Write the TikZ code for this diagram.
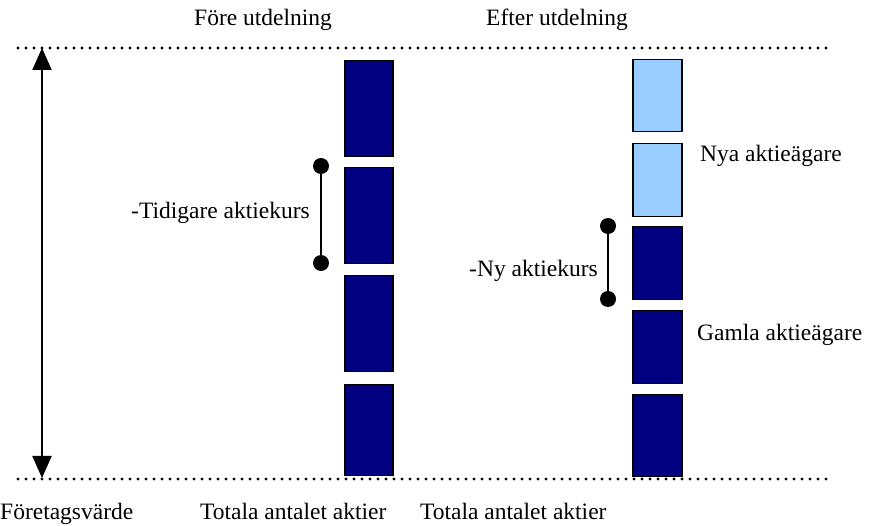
\documentclass[tikz,border=0pt]{standalone}
\usepackage{fontspec}
\setmainfont{Liberation Serif}
\usetikzlibrary{arrows.meta}
\definecolor{navyfill}{HTML}{000080}
\definecolor{skyfill}{HTML}{99CCFF}
\begin{document}
\begin{tikzpicture}[x=1pt,y=-1pt,
  lbl/.style={font=\fontsize{23.5}{27}\selectfont, inner sep=0pt},
  sharebox/.style={draw=black, line width=1.5pt, inner sep=0pt, anchor=north west},
  dark/.style={sharebox, fill=navyfill},
  light/.style={sharebox, fill=skyfill},
  dotline/.style={line width=3.2pt, line cap=round, dash pattern=on 0pt off 8pt},
  knob/.style={circle, fill=black, inner sep=0pt, minimum size=16pt},
  span/.style={line width=2pt},
  valarrow/.style={line width=2pt, {Triangle[width=19pt,length=22pt]}-{Triangle[width=19pt,length=22pt]}}
]
\useasboundingbox (0,0) rectangle (887,526);

% dotted reference levels
\coordinate (topL) at (18,48);
\coordinate (topR) at (830,48);
\coordinate (botL) at (18,479);
\coordinate (botR) at (830,479);
\draw[dotline] (topL) -- (topR);
\draw[dotline] (botL) -- (botR);

% company value arrow
\coordinate (valTop) at (42,48);
\coordinate (valBot) at (42,478);
\draw[valarrow] (valTop) -- (valBot);

% shares before the issue
\node[dark, minimum width=48pt, minimum height=96pt] (b1) at (344,60) {};
\node[dark, minimum width=48pt, minimum height=96pt] (b2) at (344,167) {};
\node[dark, minimum width=48pt, minimum height=96pt] (b3) at (344,275) {};
\node[dark, minimum width=48pt, minimum height=91pt] (b4) at (344,384) {};

% shares after the issue
\node[light, minimum width=49pt, minimum height=72pt] (a1) at (632,59) {};
\node[light, minimum width=49pt, minimum height=73pt] (a2) at (632,143) {};
\node[dark, minimum width=49pt, minimum height=73pt] (a3) at (632,226) {};
\node[dark, minimum width=49pt, minimum height=73pt] (a4) at (632,310) {};
\node[dark, minimum width=49pt, minimum height=82pt] (a5) at (632,394) {};

% price brackets
\node[knob] (p1) at (321,166) {};
\node[knob] (p2) at (321,263) {};
\draw[span] (p1) -- (p2);
\node[knob] (q1) at (608,226) {};
\node[knob] (q2) at (608,299) {};
\draw[span] (q1) -- (q2);

% labels
\node[lbl, anchor=base west] (before) at (194,26) {Före utdelning};
\node[lbl, anchor=base west] (after) at (486,26) {Efter utdelning};
\node[lbl, anchor=base east] (oldprice) at (310,219) {-Tidigare aktiekurs};
\node[lbl, anchor=base east] (newprice) at (598,277) {-Ny aktiekurs};
\node[lbl, anchor=base west] (newown) at (700,162) {Nya aktieägare};
\node[lbl, anchor=base west] (oldown) at (697,341) {Gamla aktieägare};
\node[lbl, anchor=base west] (value) at (0,520) {Företagsvärde};
\node[lbl, anchor=base west] (count1) at (200,520) {Totala antalet aktier};
\node[lbl, anchor=base west] (count2) at (420,520) {Totala antalet aktier};
\end{tikzpicture}
\end{document}
